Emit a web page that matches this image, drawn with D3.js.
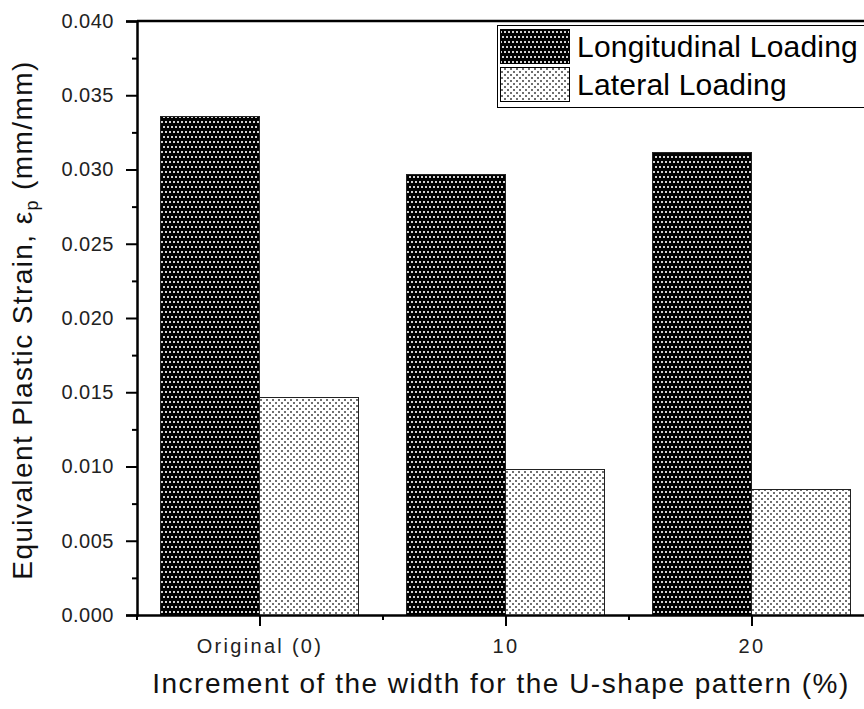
<!DOCTYPE html>
<html>
<head>
<meta charset="utf-8">
<script src="https://cdn.jsdelivr.net/npm/d3@7"></script>
<style>
  body { margin: 0; background: #fff; }
  svg { display: block; font-family: "Liberation Sans", Arial, sans-serif; }
</style>
</head>
<body>
<svg id="chart"></svg>
<script>
// data
const categories = ['Original (0)', '10', '20'];
const seriesNames = ['Longitudinal Loading', 'Lateral Loading'];
const longitudinal = [0.0336, 0.0297, 0.0312];
const lateral = [0.0147, 0.0098, 0.0085];
const yTicks = [0, 0.005, 0.01, 0.015, 0.02, 0.025, 0.03, 0.035, 0.04];
const yMinor = [0.0025, 0.0075, 0.0125, 0.0175, 0.0225, 0.0275, 0.0325, 0.0375];

let width = 864, height = 709;
let plotLeft = 137, plotTop = 21, plotBottom = 615;
let step = 246;
let font = '"Liberation Sans", Arial, sans-serif';

let svg = d3.select('#chart')
  .attr('width', width)
  .attr('height', height);

// fill patterns
let defs = svg.append('defs');
let dark = defs.append('pattern')
  .attr('id', 'dark')
  .attr('patternUnits', 'userSpaceOnUse')
  .attr('width', 4).attr('height', 10);
dark.append('rect').attr('width', 4).attr('height', 10).attr('fill', '#000');
dark.append('rect').attr('x', 0).attr('y', 1).attr('width', 2).attr('height', 2).attr('fill', '#d0d0d0');
dark.append('rect').attr('x', 2).attr('y', 6).attr('width', 2).attr('height', 2).attr('fill', '#d0d0d0');

let light = defs.append('pattern')
  .attr('id', 'light')
  .attr('patternUnits', 'userSpaceOnUse')
  .attr('width', 6).attr('height', 6);
light.append('rect').attr('width', 6).attr('height', 6).attr('fill', '#fff');
light.append('rect').attr('x', 0).attr('y', 0).attr('width', 2).attr('height', 2).attr('fill', '#707070');
light.append('rect').attr('x', 3).attr('y', 3).attr('width', 2).attr('height', 2).attr('fill', '#707070');

let fills = ['url(#dark)', 'url(#light)'];

// scales
let x = d3.scaleBand()
  .domain(categories)
  .range([plotLeft, plotLeft + step * categories.length]);

let x1 = d3.scaleBand()
  .domain(seriesNames)
  .range([23, 221]);

let y = d3.scaleLinear()
  .domain([0, 0.04])
  .range([plotBottom, plotTop]);

let rows = categories.map((c, i) => ({ cat: c, values: [longitudinal[i], lateral[i]] }));

// bars
let groups = svg.selectAll('g.group')
  .data(rows)
  .enter()
  .append('g')
  .attr('class', 'group')
  .attr('transform', d => `translate(${x(d.cat)},0)`);

groups.selectAll('rect')
  .data(d => d.values.map((v, j) => ({ name: seriesNames[j], value: v, j: j })))
  .enter()
  .append('rect')
  .attr('x', d => x1(d.name) + 0.5)
  .attr('y', d => Math.round(y(d.value)) + 0.5)
  .attr('width', x1.bandwidth())
  .attr('height', d => plotBottom - Math.round(y(d.value)))
  .attr('fill', d => fills[d.j])
  .attr('stroke', '#222')
  .attr('stroke-width', 1);

// y axis
let yAxis = svg.append('g')
  .attr('transform', `translate(${plotLeft},0)`)
  .call(d3.axisLeft(y).tickValues(yTicks).tickFormat(d3.format('.3f')).tickSize(11).tickPadding(12));
svg.append('g')
  .attr('transform', `translate(${plotLeft},0)`)
  .call(d3.axisLeft(y).tickValues(yMinor).tickFormat('').tickSize(5))
  .select('.domain').remove();

// x axis
let xAxis = svg.append('g')
  .attr('transform', `translate(0,${plotBottom})`)
  .call(d3.axisBottom(x).tickSize(11).tickSizeOuter(0).tickPadding(13));
let minorX = d3.range(categories.length + 1).map(i => x.range()[0] + i * x.step());
svg.append('g')
  .selectAll('line')
  .data(minorX)
  .enter()
  .append('line')
  .attr('x1', d => d).attr('x2', d => d)
  .attr('y1', plotBottom).attr('y2', plotBottom + 5)
  .attr('stroke', '#000').attr('stroke-width', 2);

// top frame line
svg.append('line')
  .attr('x1', plotLeft).attr('x2', width)
  .attr('y1', plotTop).attr('y2', plotTop)
  .attr('stroke', '#000').attr('stroke-width', 2.5);

svg.selectAll('.domain').attr('stroke', '#000').attr('stroke-width', 2.5);
svg.selectAll('.tick line').attr('stroke', '#000').attr('stroke-width', 2);

yAxis.selectAll('.tick text')
  .attr('font-family', font)
  .attr('font-size', 20).attr('fill', '#222')
  .style('letter-spacing', '0.5px');
xAxis.selectAll('.tick text')
  .attr('font-family', font)
  .attr('font-size', 20).attr('fill', '#222')
  .style('letter-spacing', '2.3px');

// axis titles
svg.append('text')
  .attr('x', 501).attr('y', 693)
  .attr('text-anchor', 'middle')
  .attr('font-size', 28)
  .attr('fill', '#111')
  .style('letter-spacing', '1.5px')
  .text('Increment of the width for the U-shape pattern (%)');

let yTitle = svg.append('text')
  .attr('transform', 'translate(32,320) rotate(-90)')
  .attr('text-anchor', 'middle')
  .attr('font-size', 28)
  .attr('fill', '#111')
  .style('letter-spacing', '1.4px');
yTitle.append('tspan').text('Equivalent Plastic Strain, \u03b5');
yTitle.append('tspan').attr('font-size', 18).attr('dy', 6).text('p');
yTitle.append('tspan').attr('dy', -6).text(' (mm/mm)');

// legend
let legend = svg.append('g');
legend.append('rect')
  .attr('x', 497.5).attr('y', 25.5)
  .attr('width', 400).attr('height', 82)
  .attr('fill', '#fff').attr('stroke', '#000').attr('stroke-width', 1);

let items = legend.selectAll('g.item')
  .data(seriesNames)
  .enter()
  .append('g')
  .attr('class', 'item')
  .attr('transform', (d, i) => `translate(0,${i * 38})`);

items.append('rect')
  .attr('x', 500.5).attr('y', 29.5)
  .attr('width', 69).attr('height', 34)
  .attr('fill', (d, i) => fills[i])
  .attr('stroke', '#000').attr('stroke-width', 1);

items.append('text')
  .attr('x', 577).attr('y', 57)
  .attr('font-size', 30)
  .attr('fill', '#000')
  .style('letter-spacing', '0.2px')
  .text(d => d);
</script>
</body>
</html>
